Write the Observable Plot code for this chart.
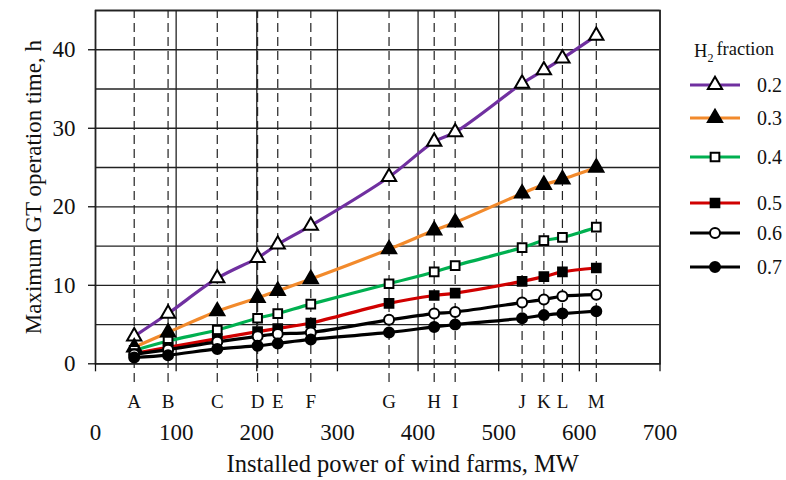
<!DOCTYPE html>
<html><head><meta charset="utf-8">
<script src="https://cdn.jsdelivr.net/npm/d3@7"></script>
<script src="https://cdn.jsdelivr.net/npm/@observablehq/plot@0.6"></script>
<style>
body{margin:0;background:#fff;}
#wrap{position:relative;width:786px;height:480px;font-family:"Liberation Serif","Times New Roman",serif;}
#legend{position:absolute;left:0;top:0;pointer-events:none;}
</style></head><body><div id="wrap"></div>
<script>
// ---- data ----
const fractions = ["0.2", "0.3", "0.4", "0.5", "0.6", "0.7"];
const siteLabels = ["A","B","C","D","E","F","G","H","I","J","K","L","M"];
const sitePower = [48, 90, 151, 201, 226, 267, 364, 420, 446, 529, 556, 579, 621];
const time02 = [3.5, 6.4, 10.9, 13.5, 15.2, 17.6, 23.8, 28.3, 29.5, 35.7, 37.4, 38.9, 41.8];
const time03 = [2.1, 4.0, 6.7, 8.4, 9.3, 10.8, 14.6, 17.0, 18.0, 21.7, 22.8, 23.5, 25.0];
const time04 = [1.7, 2.9, 4.3, 5.8, 6.4, 7.6, 10.2, 11.7, 12.5, 14.8, 15.7, 16.1, 17.4];
const time05 = [1.3, 2.1, 3.2, 4.1, 4.5, 5.2, 7.7, 8.7, 9.0, 10.5, 11.1, 11.7, 12.2];
const time06 = [1.2, 1.8, 2.8, 3.5, 3.8, 4.0, 5.6, 6.4, 6.6, 7.8, 8.2, 8.6, 8.8];
const time07 = [0.8, 1.1, 1.9, 2.3, 2.6, 3.1, 4.0, 4.7, 5.0, 5.8, 6.2, 6.4, 6.7];
const xTicks = [0, 100, 200, 300, 400, 500, 600, 700];
const yTicks = [0, 10, 20, 30, 40];
const yGrid = [0, 5, 10, 15, 20, 25, 30, 35, 40, 45];
const xLabel = "Installed power of wind farms, MW";
const yLabel = "Maximum GT operation time, h";
const legendTitle = "fraction";

// ---- styles ----
const seriesValues = [time02, time03, time04, time05, time06, time07];
const colors = ["#7030a0", "#f28a2c", "#00b050", "#d00000", "#000000", "#000000"];
const symbols = ["triangle", "triangle", "square", "square", "circle", "circle"];
const fills = ["white", "black", "white", "black", "white", "black"];
const radii = {triangle: 5.3, square: 4.9, circle: 5.0};

const rows = fractions.map((f, i) => sitePower.map((p, j) => ({fraction: f, power: p, time: seriesValues[i][j]})));

const gridStroke = "#222";
const marks = [
  Plot.gridY(yGrid, {stroke: gridStroke, strokeOpacity: 1, strokeWidth: 1.3}),
  Plot.gridX(xTicks, {stroke: gridStroke, strokeOpacity: 1, strokeWidth: 1.3}),
  Plot.ruleX(sitePower, {stroke: gridStroke, strokeWidth: 1.2, strokeDasharray: "9,5", strokeDashoffset: 1, insetBottom: -20}),
  Plot.frame({stroke: gridStroke, strokeWidth: 1.6}),
  Plot.axisY({ticks: yTicks, tickSize: 7, tickPadding: 13, fontSize: 23, strokeWidth: 1.3,
    label: yLabel, labelAnchor: "center", labelArrow: "none", labelOffset: 71}),
  Plot.axisX({ticks: xTicks, tickSize: 8, tickPadding: 52, fontSize: 23, strokeWidth: 1.3, label: null}),
  Plot.axisX(sitePower, {tickSize: 0, tickPadding: 31, fontSize: 19,
    tickFormat: d => siteLabels[sitePower.indexOf(d)], label: null}),
  Plot.text([xLabel], {frameAnchor: "bottom", text: d => d, dx: 25, dy: 108, lineAnchor: "bottom", fontSize: 24.5})
];
fractions.forEach((f, i) => {
  marks.push(Plot.line(rows[i], {x: "power", y: "time", stroke: colors[i], strokeWidth: 3.2, curve: "catmull-rom"}));
});
fractions.forEach((f, i) => {
  marks.push(Plot.dot(rows[i], {x: "power", y: "time", symbol: symbols[i], r: radii[symbols[i]],
    fill: fills[i], stroke: "black", strokeWidth: 2}));
});

const chart = Plot.plot({
  width: 786, height: 480,
  marginLeft: 95, marginRight: 126.5, marginTop: 10, marginBottom: 116.7,
  x: {domain: [0, 700]},
  y: {domain: [0, 45]},
  style: {fontFamily: "'Liberation Serif', 'Times New Roman', serif", fontSize: "24.5px", color: "#111", background: "white"},
  marks
});
document.getElementById("wrap").appendChild(chart);

// ---- legend ----
const legendY = [85, 118, 157, 203, 233, 267];
const lg = d3.select("#wrap").append("svg").attr("id", "legend").attr("width", 786).attr("height", 480)
  .style("font-family", "'Liberation Serif', 'Times New Roman', serif").style("fill", "#111");
const title = lg.append("text").attr("x", 734).attr("y", 51).attr("dy", "0.35em").attr("text-anchor", "middle").attr("font-size", 18.5);
title.append("tspan").text("H");
title.append("tspan").attr("font-size", 12).attr("dy", "0.35em").text("2");
title.append("tspan").attr("dy", "-0.35em").attr("dx", 3).text(legendTitle);
fractions.forEach((f, i) => {
  const g = lg.append("g").attr("transform", `translate(0,${legendY[i]})`);
  g.append("line").attr("x1", 690).attr("x2", 740).attr("stroke", colors[i]).attr("stroke-width", 3);
  const sym = {triangle: d3.symbolTriangle, square: d3.symbolSquare, circle: d3.symbolCircle}[symbols[i]];
  const r = radii[symbols[i]];
  g.append("path").attr("transform", "translate(715,0)")
    .attr("d", d3.symbol(sym, Math.PI * r * r)())
    .attr("fill", fills[i]).attr("stroke", "black").attr("stroke-width", 2);
  g.append("text").attr("x", 757).attr("dy", "0.35em").attr("font-size", 20).text(f);
});
</script>
</body></html>
